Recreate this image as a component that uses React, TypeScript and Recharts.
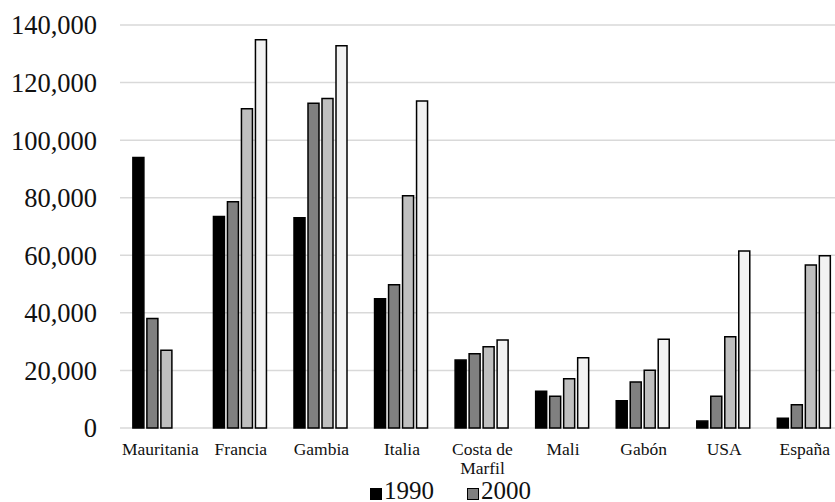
import React from 'react';
import { BarChart, Bar, XAxis, YAxis, CartesianGrid } from 'recharts';

const countries = ['Mauritania', 'Francia', 'Gambia', 'Italia', 'Costa de Marfil', 'Mali', 'Gabón', 'USA', 'España'];
const years = ['1990', '2000', '2010', '2019'];
const values1990 = [94000, 73500, 73000, 44900, 23600, 12800, 9500, 2400, 3400];
const values2000 = [38000, 78600, 112800, 49800, 25800, 11000, 16000, 11000, 8100];
const values2010 = [27000, 110900, 114500, 80700, 28200, 17100, 20100, 31700, 56600];
const values2019 = [null, 134900, 132800, 113600, 30600, 24400, 30800, 61500, 59800];
const yTicks = [0, 20000, 40000, 60000, 80000, 100000, 120000, 140000];
const fills = ['#000000', '#808080', '#bfbfbf', '#f2f2f2'];

const data = countries.map((name, i) => ({
  name,
  y1990: values1990[i],
  y2000: values2000[i],
  y2010: values2010[i],
  y2019: values2019[i],
}));

const serif = "Liberation Serif, Tinos, DejaVu Serif, serif";

// wraps long country names onto two lines like the original
const CountryTick = (props: any) => {
  const { x, y, payload } = props;
  const words = String(payload.value).split(' ');
  const lines = words.length > 2 ? [words.slice(0, 2).join(' '), words.slice(2).join(' ')] : [payload.value];
  return (
    <text x={x} y={y} textAnchor="middle" style={{ fontFamily: serif }} fontSize={17.5} fill="#111">
      {lines.map((line, i) => (
        <tspan key={i} x={x} dy={i === 0 ? 27 : 19}>{line}</tspan>
      ))}
    </text>
  );
};

export default function App() {
  return (
    <div style={{ position: 'absolute', left: 0, top: 0, width: 835, height: 502, overflow: 'hidden', background: '#fff' }}>
      <BarChart
        width={845}
        height={502}
        data={data}
        margin={{ top: 25, right: 0, bottom: 24, left: 0 }}
        barCategoryGap="16%"
        barGap={3}
        style={{ fontFamily: serif }}
      >
        <CartesianGrid vertical={false} stroke="#d9d9d9" strokeWidth={1.5} />
        <XAxis
          dataKey="name"
          axisLine={false}
          tickLine={false}
          tickSize={0}
          tickMargin={0}
          height={50}
          interval={0}
          tick={<CountryTick />}
        />
        <YAxis
          width={120}
          domain={[0, 140000]}
          ticks={yTicks}
          axisLine={false}
          tickLine={false}
          tickSize={0}
          tickMargin={23}
          tickFormatter={(v: number) => v.toLocaleString('en-US')}
          tick={{ style: { fontFamily: serif }, fontSize: 26.5, fill: '#111' }}
        />
        {years.map((yr, i) => (
          <Bar
            key={yr}
            dataKey={'y' + yr}
            name={yr}
            fill={fills[i]}
            stroke="#000"
            strokeWidth={1.5}
            isAnimationActive={false}
          />
        ))}
      </BarChart>
      <div
        style={{
          position: 'absolute',
          top: 478,
          left: 370,
          display: 'flex',
          fontFamily: serif,
          fontSize: 25,
          lineHeight: '25px',
          color: '#111',
        }}
      >
        {years.slice(0, 2).map((yr, i) => (
          <div key={yr} style={{ display: 'flex', alignItems: 'center', marginRight: 33 }}>
            <span
              style={{
                display: 'inline-block',
                width: 12,
                height: 12,
                marginTop: 6,
                marginRight: 2,
                background: fills[i],
                border: '1px solid #000',
                boxSizing: 'border-box',
              }}
            />
            <span>{yr}</span>
          </div>
        ))}
      </div>
    </div>
  );
}
